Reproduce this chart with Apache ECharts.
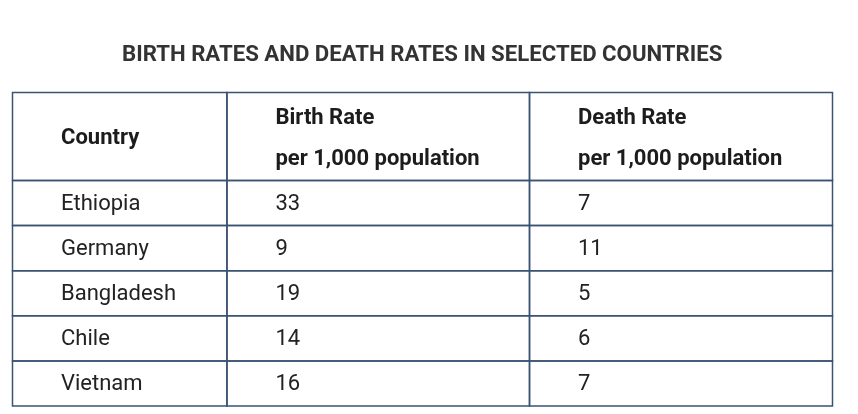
<!DOCTYPE html>
<html>
<head>
<meta charset="utf-8">
<script src="https://cdn.jsdelivr.net/npm/echarts@6/dist/echarts.min.js"></script>
<style>
html,body{margin:0;padding:0;background:#fff;}
#chart{width:858px;height:414px;}
</style>
</head>
<body>
<div id="chart"></div>
<script>
// ---- data ----
var title = 'BIRTH RATES AND DEATH RATES IN SELECTED COUNTRIES';
var headerCountry = 'Country';
var headerBirth = ['Birth Rate', 'per 1,000 population'];
var headerDeath = ['Death Rate', 'per 1,000 population'];
var countries = ['Ethiopia', 'Germany', 'Bangladesh', 'Chile', 'Vietnam'];
var birthRates = [33, 9, 19, 14, 16];
var deathRates = [7, 11, 5, 6, 7];

// ---- layout (axis units) ----
var colEdges = [0, 26.15, 63.05, 100];
var headerSpan = 1.95;
var FONT = 'Roboto, "Noto Sans", sans-serif';
var LINE = '#3b5372';

var rows = [];
rows.push({ value: [0, headerSpan], header: true,
  cells: [[headerCountry], headerBirth, headerDeath] });
for (var i = 0; i < countries.length; i++) {
  rows.push({ value: [headerSpan + i, headerSpan + i + 1], header: false,
    cells: [[countries[i]], [String(birthRates[i])], [String(deathRates[i])]] });
}

var chart = echarts.init(document.getElementById('chart'), null, { renderer: 'canvas' });

function renderItem(params, api) {
  var row = rows[params.dataIndex];
  var y0 = api.value(0), y1 = api.value(1);
  var children = [];
  for (var c = 0; c < 3; c++) {
    var p0 = api.coord([colEdges[c], y0]);
    var p1 = api.coord([colEdges[c + 1], y1]);
    children.push({
      type: 'rect',
      shape: { x: p0[0], y: p0[1], width: p1[0] - p0[0], height: p1[1] - p0[1] },
      style: { fill: 'rgba(0,0,0,0)', stroke: LINE, lineWidth: 1.5 }
    });
    var lines = row.cells[c];
    var cy = (p0[1] + p1[1]) / 2 + (row.header ? 2.5 : 1);
    var lh = 41;
    for (var k = 0; k < lines.length; k++) {
      var ty = cy + (k - (lines.length - 1) / 2) * lh;
      children.push({
        type: 'text',
        style: {
          x: p0[0] + 48.5, y: ty,
          text: lines[k],
          fill: row.header ? '#1c1c1c' : '#222',
          font: (row.header ? 'bold ' : '') + '22px ' + FONT,
          align: 'left', verticalAlign: 'middle'
        }
      });
    }
  }
  return { type: 'group', children: children };
}

chart.setOption({
  animation: false,
  title: {
    text: title, left: 122, top: 44, padding: 0,
    textStyle: { fontFamily: FONT, fontSize: 22.2, fontWeight: 'bold', color: '#333' }
  },
  grid: { left: 12.5, right: 25.5, top: 92.5, bottom: 8, containLabel: false },
  xAxis: { type: 'value', min: 0, max: 100, show: false },
  yAxis: { type: 'value', min: 0, max: headerSpan + countries.length, inverse: true, show: false },
  series: [{
    type: 'custom',
    renderItem: renderItem,
    data: rows.map(function (r) { return r.value; }),
    silent: true
  }]
});
</script>
</body>
</html>
